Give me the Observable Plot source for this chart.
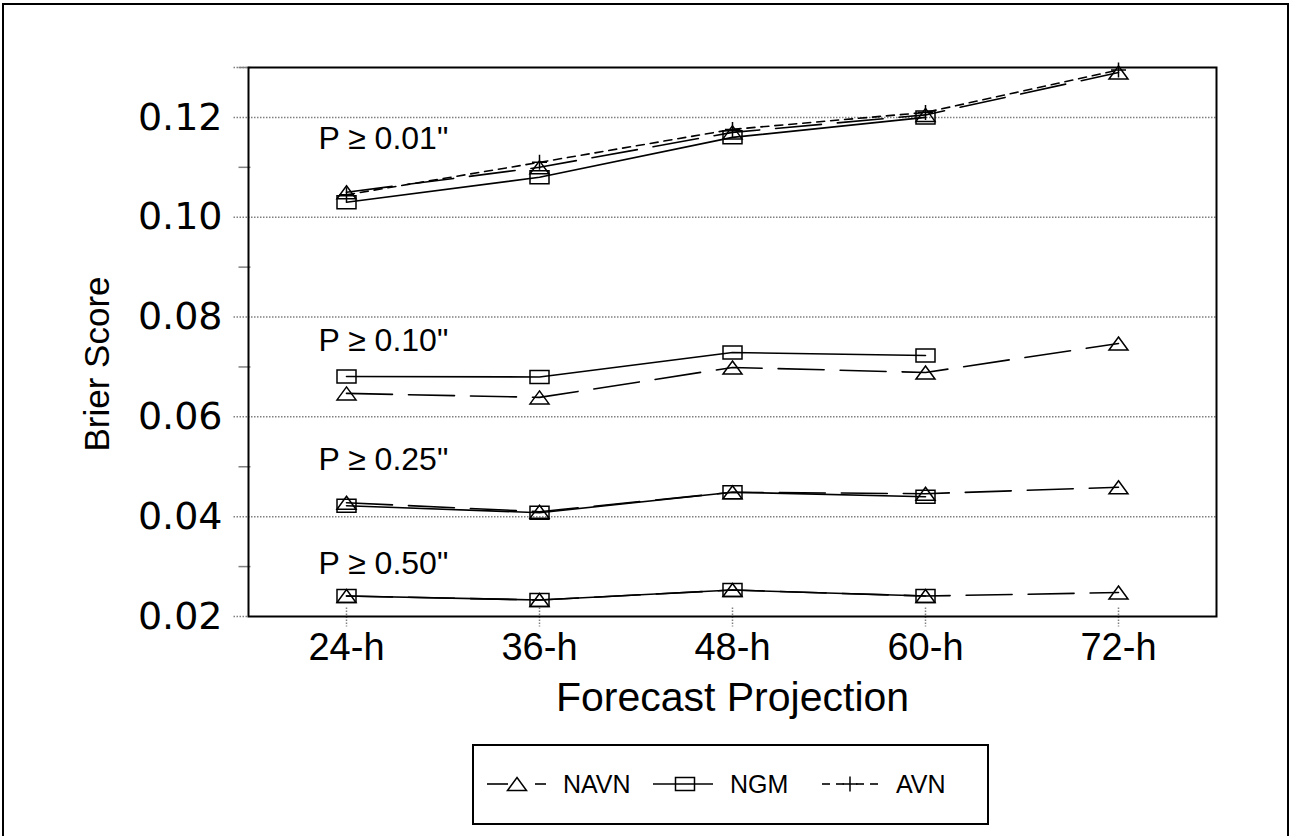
<!DOCTYPE html>
<html><head><meta charset="utf-8">
<script src="https://cdn.jsdelivr.net/npm/d3@7"></script>
<script src="https://cdn.jsdelivr.net/npm/@observablehq/plot@0.6"></script>
<style>
body{margin:0;background:#fff;}
#wrap{position:relative;width:1291px;height:836px;overflow:hidden;font-family:"Liberation Sans",Arial,sans-serif;}
#border{position:absolute;left:2px;top:3px;width:1287px;height:900px;border:2px solid #000;box-sizing:border-box}
#chart{position:absolute;left:0;top:0}
#legend{position:absolute;left:472px;top:744px;}
</style></head><body>
<div id="wrap"><div id="border"></div><div id="chart"></div><div id="legend"></div></div>
<script>
// ---- data ----
const projections = ["24-h", "36-h", "48-h", "60-h", "72-h"];
const thresholds = ["P \u2265 0.01\"", "P \u2265 0.10\"", "P \u2265 0.25\"", "P \u2265 0.50\""];
const thresholdLabelY = [0.1157, 0.0753, 0.0515, 0.0305];
const models = ["NAVN", "NGM", "AVN"];

const navn01 = [0.105, 0.110, 0.117, 0.1205, 0.129];
const ngm01  = [0.103, 0.108, 0.116, 0.120, null];
const avn01  = [0.1045, 0.111, 0.1176, 0.121, 0.1295];

const navn10 = [0.0647, 0.0639, 0.0699, 0.0689, 0.0747];
const ngm10  = [0.0681, 0.0680, 0.0729, 0.0723, null];

const navn25 = [0.0428, 0.0410, 0.0449, 0.0446, 0.0459];
const ngm25  = [0.0422, 0.0408, 0.0449, 0.0440, null];

const navn50 = [0.0241, 0.0233, 0.0253, 0.0241, 0.0248];
const ngm50  = [0.0241, 0.0233, 0.0253, 0.0241, null];

const yTicks = [0.02, 0.04, 0.06, 0.08, 0.10, 0.12];
const yGrid = [0.04, 0.06, 0.08, 0.10, 0.12];
const yMinor = [0.03, 0.05, 0.07, 0.09, 0.11, 0.13];

// ---- table ----
const rows = [];
function add(model, thr, vals) {
  vals.forEach((v, i) => { if (v != null) rows.push({model, thr, proj: projections[i], value: v}); });
}
add("NAVN", thresholds[0], navn01); add("NGM", thresholds[0], ngm01); add("AVN", thresholds[0], avn01);
add("NAVN", thresholds[1], navn10); add("NGM", thresholds[1], ngm10);
add("NAVN", thresholds[2], navn25); add("NGM", thresholds[2], ngm25);
add("NAVN", thresholds[3], navn50); add("NGM", thresholds[3], ngm50);
const byModel = m => rows.filter(d => d.model === m);
const labelRows = thresholds.map((t, i) => ({text: t, y: thresholdLabelY[i]}));

// ---- symbols ----
const hline = (a, b) => ({draw(ctx) { ctx.moveTo(a, 0); ctx.lineTo(b, 0); }});
const vline = (a, b) => ({draw(ctx) { ctx.moveTo(0, a); ctx.lineTo(0, b); }});
const tri = {draw(ctx) { ctx.moveTo(0, -6.5); ctx.lineTo(9.5, 6.5); ctx.lineTo(-9.5, 6.5); ctx.closePath(); }};
const box = {draw(ctx) { ctx.rect(-9.5, -6.5, 19, 13); }};
const plus = {draw(ctx) { ctx.moveTo(-7.5, 0); ctx.lineTo(7.5, 0); ctx.moveTo(0, -7.5); ctx.lineTo(0, 7.5); }};
const dashStyle = {NAVN: "46,16", NGM: null, AVN: "8,6"};
const symbolOf = {NAVN: tri, NGM: box, AVN: plus};

const W = 1291, H = 730;
const chart = Plot.plot({
  width: W, height: H,
  marginLeft: 248, marginRight: 75, marginTop: 67, marginBottom: H - 616,
  style: {fontFamily: "'Liberation Sans', Arial, sans-serif", background: "transparent", color: "black"},
  x: {type: "point", domain: projections, padding: 0.5, axis: null},
  y: {domain: [0.02, 0.13], axis: null},
  marks: [
    Plot.ruleY(yGrid, {stroke: "#808080", strokeDasharray: "1.5,1.5", strokeWidth: 1.5}),
    Plot.dot(yTicks.concat([0.13]), {y: d => d, frameAnchor: "left", symbol: hline(-15, 0), stroke: "#808080", strokeDasharray: "1.5,1.5", strokeWidth: 1.5}),
    Plot.dot(yMinor, {y: d => d, frameAnchor: "left", symbol: hline(-10, 2), stroke: "#808080", strokeWidth: 1.5}),
    Plot.dot(projections, {x: d => d, frameAnchor: "bottom", symbol: vline(-9, 10), stroke: "#808080", strokeDasharray: "1.5,1.5", strokeWidth: 1.5}),
    Plot.axisY({ticks: yTicks, tickSize: 0, tickPadding: 26, tickFormat: d3.format(".2f"), fontSize: 38, fontFamily: "'DejaVu Sans', sans-serif", label: null, fill: "black"}),
    Plot.axisX({tickSize: 0, tickPadding: 17, fontSize: 38, label: null, fill: "black"}),
    Plot.frame({stroke: "black", strokeWidth: 2}),
    ...models.map(m => Plot.line(byModel(m), {x: "proj", y: "value", z: "thr", stroke: "black", strokeWidth: 1.6, strokeDasharray: dashStyle[m]})),
    ...models.map(m => Plot.dot(byModel(m), {x: "proj", y: "value", symbol: symbolOf[m], stroke: "black", fill: "none", strokeWidth: 1.5})),
    Plot.text(labelRows, {x: () => projections[0], y: "y", text: "text", textAnchor: "start", dx: -28, fontSize: 32, lineAnchor: "middle", fill: "black"}),
    Plot.text(["Forecast Projection"], {frameAnchor: "bottom", textAnchor: "middle", dy: 65, lineAnchor: "top", fontSize: 41, fill: "black"}),
    Plot.text(["Brier Score"], {frameAnchor: "left", textAnchor: "middle", dx: -151, dy: 22, rotate: -90, fontSize: 35, fill: "black"})
  ]
});
document.getElementById("chart").append(chart);

// ---- legend ----
const lw = 517, lh = 81, cy = 40;
const lg = d3.select("#legend").append("svg").attr("width", lw).attr("height", lh)
  .style("font-family", "'Liberation Sans', Arial, sans-serif");
lg.append("rect").attr("x", 1).attr("y", 1).attr("width", lw - 2).attr("height", lh - 2)
  .attr("fill", "white").attr("stroke", "black").attr("stroke-width", 2);
const legendItems = [
  {model: "NAVN", segs: [[15, 36], [63, 74]], mx: 45, tx: 91},
  {model: "NGM", segs: [[181, 241]], mx: 213, tx: 258},
  {model: "AVN", segs: [[350, 358], [364, 372], [384, 392], [398, 406]], mx: 378, tx: 424}
];
legendItems.forEach(it => {
  it.segs.forEach(([a, b]) => lg.append("line").attr("x1", a).attr("x2", b).attr("y1", cy).attr("y2", cy)
    .attr("stroke", "black").attr("stroke-width", 1.6));
  const p = d3.path(); symbolOf[it.model].draw(p);
  lg.append("path").attr("d", p.toString()).attr("transform", `translate(${it.mx},${cy})`)
    .attr("fill", "none").attr("stroke", "black").attr("stroke-width", 1.5);
  lg.append("text").attr("x", it.tx).attr("y", cy).attr("dy", "0.35em").attr("font-size", 25).text(it.model);
});
</script>
</body></html>
